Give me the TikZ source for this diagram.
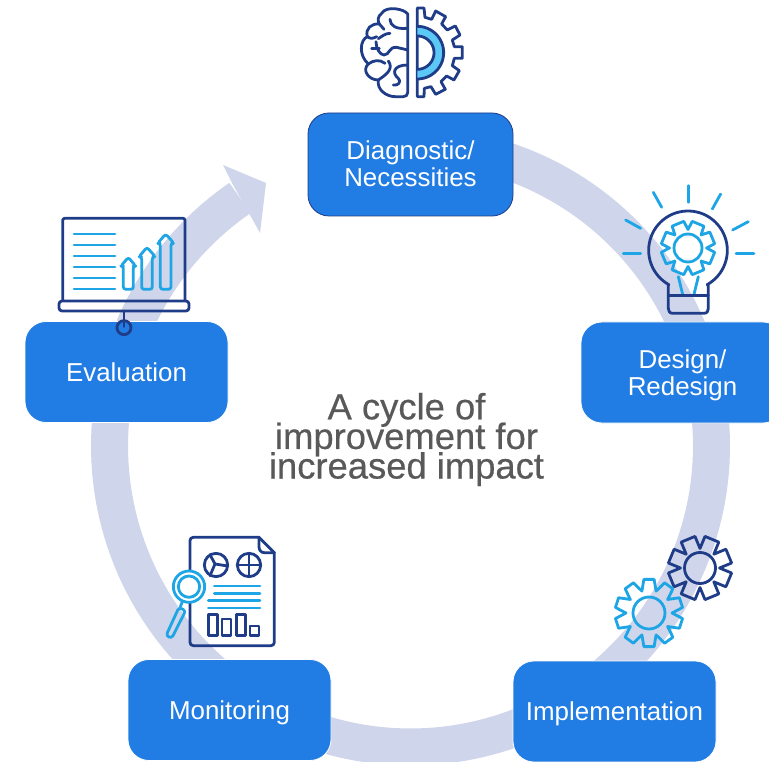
\documentclass[tikz,border=0pt]{standalone}
\usepackage{fontspec}
\setmainfont{Liberation Sans}
\newfontfamily\titlefont[FakeBold=0.5]{Liberation Sans}
\lineskiplimit=-100pt
\normallineskiplimit=-100pt
\definecolor{boxblue}{HTML}{217CE3}
\definecolor{ringc}{HTML}{CFD5EA}
\definecolor{navy}{HTML}{1F3C88}
\definecolor{sky}{HTML}{1DA5E5}
\definecolor{skyfill}{HTML}{5BC8F5}
\definecolor{centretext}{HTML}{595959}
\tikzset{
  cyclebox/.style={fill=boxblue,draw=white,line width=0.8pt,rounded corners=21pt,minimum width=203pt,minimum height=101pt,inner sep=0pt,text=white,align=center,font=\fontsize{25.9}{27}\selectfont},
  nv/.style={draw=navy,line width=2.8pt,line join=round,line cap=round},
  sk/.style={draw=sky,line width=2.8pt,line join=round,line cap=round},
  zoomed/.style={x=0.3333pt,y=-0.3333pt}
}
\newcommand{\gearshape}[9]{% cx cy teeth router rinner rotation style ringr cornerfraction
  \draw[#7] plot[samples at={0,...,\numexpr3*#3-1\relax}]
    ({#1+(mod(\x,3)==0?#5:#4)*cos(#6+360/#3*(floor(\x/3)+(mod(\x,3)==0?0:(mod(\x,3)==1?#9:1-#9))))},
     {#2+(mod(\x,3)==0?#5:#4)*sin(#6+360/#3*(floor(\x/3)+(mod(\x,3)==0?0:(mod(\x,3)==1?#9:1-#9))))}) -- cycle;
  \draw[#7] (#1,#2) circle[radius=#8pt];
}
\begin{document}
\begin{tikzpicture}[x=1pt,y=-1pt]
\useasboundingbox (0,0) rectangle (769,762);
\clip (0,0) rectangle (769,762);
% ring with arrow
\draw[ringc,line width=37pt] plot[domain=-90:235.5,samples=200] ({410.5+301*cos(\x)},{446+301*sin(\x)});
\fill[ringc] (223,165) -- (266,183) -- (260,233) -- (250,215) -- (232,183) -- cycle;
% boxes
\node[cyclebox,draw=navy,minimum width=205pt,minimum height=103pt,text depth=2pt] (diag) at (410.5,164.5) {Diagnostic/\\Necessities};
\node[cyclebox,text depth=0pt] (design) at (682.5,372.5) {Design/\\Redesign};
\node[cyclebox,text depth=0pt] (impl) at (614.5,711.5) {Implementation};
\node[cyclebox,text depth=0pt] (moni) at (229.5,710) {Monitoring};
\node[cyclebox] (eval) at (126.5,372) {Evaluation};
\node[text=centretext,align=center,font=\titlefont\fontsize{36.4}{29.6}\selectfont,inner sep=0pt] (title) at (406.5,439.5) {A cycle of\\improvement for\\increased impact};
% brain / gear icon
\begin{scope}[shift={(340,0)},zoomed]
\draw[nv] (203,42) .. controls (195,28) and (140,15) .. (125,40) .. controls (112,50) and (113,62) .. (118,72)
  .. controls (95,70) and (75,85) .. (82,110) .. controls (60,120) and (55,165) .. (85,192)
  .. controls (65,210) and (85,240) .. (115,240) .. controls (110,270) and (140,290) .. (165,290) -- (190,290) .. controls (198,290) and (203,285) .. (203,278) -- cycle;
\draw[nv] (150,58) .. controls (150,78) and (170,88) .. (200,85);
\draw[nv] (118,72) -- (132,88);
\draw[nv] (150,100) .. controls (135,100) and (125,110) .. (115,116);
\draw[nv] (82,110) .. controls (92,118) and (100,115) .. (110,110);
\draw[nv] (95,145) -- (118,145);
\draw[nv] (108,125) .. controls (108,145) and (120,165) .. (132,165) .. controls (150,165) and (145,140) .. (170,142) -- (203,150);
\draw[nv] (85,192) .. controls (100,180) and (120,178) .. (135,190);
\draw[nv] (145,183) .. controls (160,205) and (145,220) .. (115,240);
\draw[nv] (203,195) .. controls (160,195) and (155,220) .. (175,235) .. controls (185,245) and (175,258) .. (160,255);
\draw[nv] (232,24) -- (252,24) -- (255,52) -- (275,58) -- (287,33) -- (317,50) -- (305,72) -- (322,90) -- (346,78) -- (360,105) -- (337,120) -- (343,140) -- (367,140) -- (367,175) -- (343,175) -- (337,197) -- (358,212) -- (342,240) -- (320,228) -- (303,245) -- (316,268) -- (287,283) -- (273,260) -- (253,265) -- (252,290) -- (232,290) -- cycle;
\fill[skyfill] plot[domain=-90:90,samples=40] ({232+79*cos(\x)},{158+79*sin(\x)}) -- plot[domain=90:-90,samples=40] ({232+50*cos(\x)},{158+50*sin(\x)}) -- cycle;
\draw[nv] plot[domain=-90:90,samples=40] ({232+79*cos(\x)},{158+79*sin(\x)});
\draw[nv] plot[domain=-90:90,samples=40] ({232+50*cos(\x)},{158+50*sin(\x)});
\end{scope}
% bulb icon
\begin{scope}[shift={(610,175)},zoomed]
\foreach \a/\b/\c/\d in {235/32/235/82,130/52/155/97,332/57/307/102,47/135/92/160,415/140/368/165,40/235/92/235,378/235/432/235,205/305/218/358,265/305/252/358}
  \draw[sk] (\a,\b) -- (\c,\d);
\draw[nv] plot[domain=119:421,samples=60] ({234+118*cos(\x)},{226+118*sin(\x)});
\draw[nv] (176,329) -- (175,332) -- (175,400) .. controls (175,407) and (178,415) .. (188,415) -- (282,415) .. controls (292,415) and (295,407) .. (295,400) -- (295,332) -- (292,329);
\draw[nv] (175,362) -- (295,362);
\end{scope}
\gearshape{688}{248}{8}{27}{18.5}{-90}{sk}{14}{0.2}
% gears icon
\gearshape{700}{568}{8}{32}{19.5}{-90}{nv}{15.5}{0.2}
\gearshape{649}{613}{10}{34}{23}{-72}{sk}{16}{0.26}
% report icon
\begin{scope}[shift={(155,530)},zoomed]
\draw[nv] (312,22) -- (115,22) .. controls (109,22) and (105,26) .. (105,32) -- (105,337) .. controls (105,343) and (109,347) .. (115,347) -- (348,347) .. controls (354,347) and (358,343) .. (358,337) -- (358,68) -- cycle;
\draw[nv] (312,22) -- (312,50) .. controls (312,60) and (318,68) .. (328,68) -- (358,68);
\draw[nv] (183,105) circle[radius=35];
\draw[nv] (282,105) circle[radius=35];
\draw[nv] (165,74) -- (180,102) -- (218,108);
\draw[nv] (180,102) -- (165,137);
\draw[nv] (247,105) -- (317,105);
\draw[nv] (282,70) -- (282,140);
\foreach \a/\b/\c in {178/315/168,178/315/190,160/315/212,160/315/234}
  \draw[sk] (\a,\c) -- (\b,\c);
\draw[nv] (160,253) rectangle (187,317);
\draw[nv] (201,267) rectangle (228,317);
\draw[nv] (245,253) rectangle (272,317);
\draw[nv] (285,288) rectangle (312,317);
\draw[sk,fill=white] (102,170) circle[radius=47];
\draw[sk] (102,170) circle[radius=32];
\draw[sk] (82,215) -- (76,230);
\draw[sk,rounded corners=3pt] (72,232) -- (92,242) -- (50,325) -- (33,317) -- cycle;
\end{scope}
% presentation icon
\begin{scope}[shift={(50,160)},zoomed]
\draw[nv,rounded corners=2pt] (38,420) -- (38,175) -- (405,175) -- (405,420);
\draw[nv,rounded corners=3pt] (27,423) rectangle (417,453);
\draw[nv] (222,453) -- (222,500);
\draw[nv] (222,503) circle[radius=21];
\foreach \yy in {222,255,288,321,354,387}
  \draw[sk] (72,\yy) -- (195,\yy);
\draw[sk,rounded corners=2.5pt] (220,388) -- (220,318) -- (213,318) -- (235,292) -- (257,318) -- (250,318) -- (250,388) -- cycle;
\draw[sk,rounded corners=2.5pt] (275,388) -- (275,290) -- (267,290) -- (291,262) -- (316,290) -- (307,290) -- (307,388) -- cycle;
\draw[sk,rounded corners=2.5pt] (331,388) -- (331,250) -- (323,250) -- (347,222) -- (372,250) -- (363,250) -- (363,388) -- cycle;
\end{scope}
\end{tikzpicture}
\end{document}
